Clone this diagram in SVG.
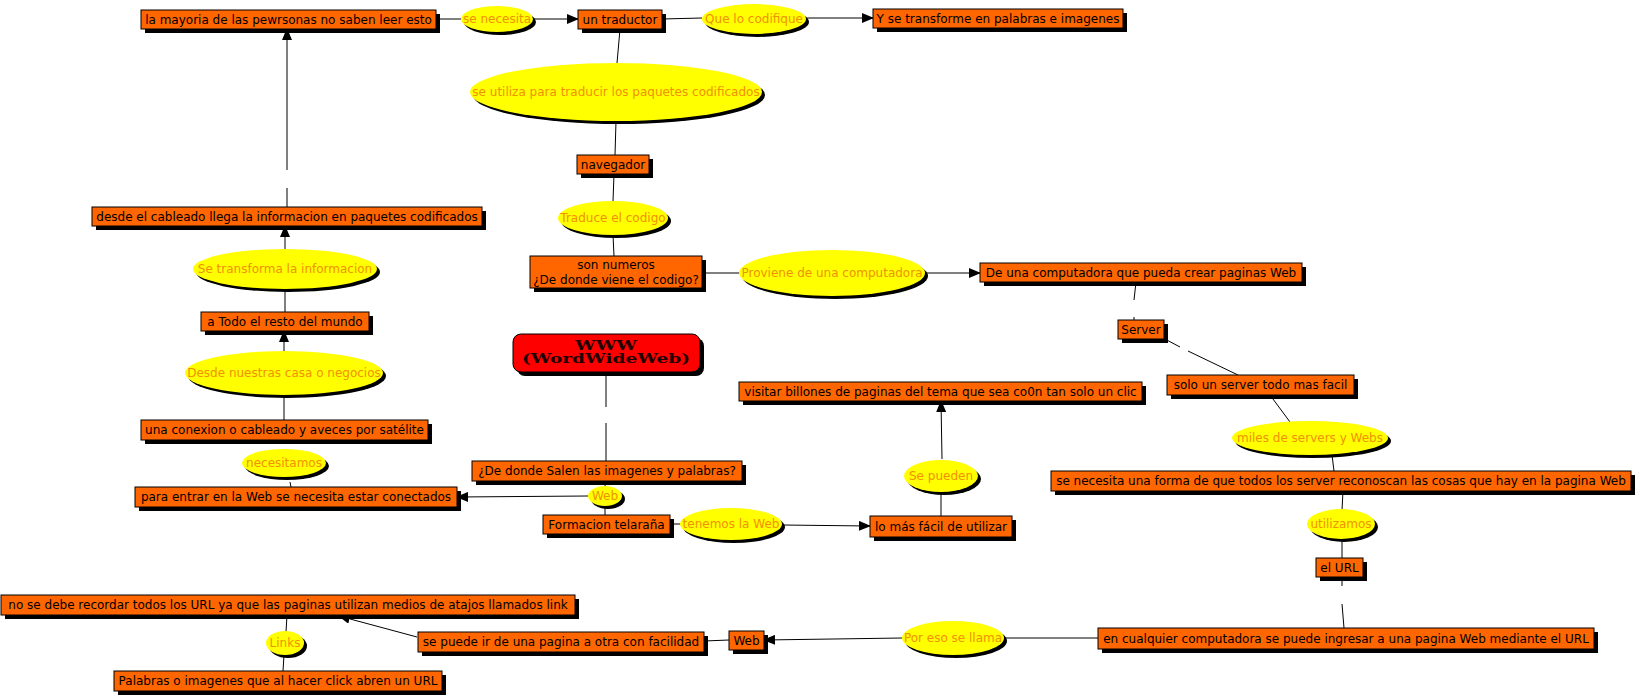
<svg xmlns="http://www.w3.org/2000/svg" width="1638" height="697" viewBox="0 0 1638 697">
<defs>
<marker id="ah" markerWidth="12" markerHeight="10" refX="11" refY="5" orient="auto" markerUnits="userSpaceOnUse">
<path d="M0,0 L12,5 L0,10 Z" fill="#000"/>
</marker>
<style>
.sh{fill:#000}
.bx{fill:#FF6600;stroke:#000;stroke-width:1}
.el{fill:#FFFF00}
.bt{font-family:"DejaVu Sans","Verdana",sans-serif;font-size:12px;fill:#000;text-anchor:middle}
.et{font-family:"DejaVu Sans","Verdana",sans-serif;font-size:12px;fill:#F29100;text-anchor:middle}
.ln{stroke:#000;stroke-width:1;fill:none}
.ar{stroke:#000;stroke-width:1;fill:none;marker-end:url(#ah)}
</style>
</defs>
<rect width="1638" height="697" fill="#fff"/>

<g id="connectors">
<line class="ln" x1="436" y1="19" x2="461" y2="19"/>
<line class="ar" x1="533" y1="19" x2="578" y2="19"/>
<line class="ln" x1="662" y1="19" x2="702" y2="18"/>
<line class="ar" x1="806" y1="18" x2="873" y2="18"/>
<line class="ln" x1="620" y1="29" x2="617" y2="63"/>
<line class="ln" x1="616" y1="121" x2="615" y2="155"/>
<line class="ln" x1="614" y1="174" x2="613" y2="201"/>
<line class="ln" x1="613" y1="235" x2="614" y2="256"/>
<line class="ln" x1="702" y1="273" x2="740" y2="273"/>
<line class="ar" x1="925" y1="273" x2="980" y2="273"/>
<line class="ln" x1="1136" y1="282" x2="1134" y2="300"/>
<line class="ln" x1="1134" y1="317" x2="1134" y2="320"/>
<line class="ln" x1="1163" y1="338" x2="1180" y2="347"/>
<line class="ln" x1="1188" y1="351" x2="1238" y2="375"/>
<line class="ln" x1="1270" y1="395" x2="1290" y2="422"/>
<line class="ln" x1="1332" y1="455" x2="1334" y2="471"/>
<line class="ln" x1="1343" y1="491" x2="1342" y2="510"/>
<line class="ln" x1="1342" y1="539" x2="1342" y2="558"/>
<line class="ln" x1="1342" y1="577" x2="1342" y2="586"/>
<line class="ln" x1="1342" y1="604" x2="1344" y2="628"/>
<line class="ln" x1="1098" y1="638" x2="1004" y2="638"/>
<line class="ar" x1="902" y1="638" x2="764" y2="640"/>
<line class="ln" x1="729" y1="640" x2="704" y2="641"/>
<line class="ar" x1="417" y1="637" x2="339" y2="616"/>
<line class="ln" x1="287" y1="615" x2="286" y2="632"/>
<line class="ln" x1="284" y1="655" x2="283" y2="671"/>
<line class="ln" x1="287" y1="207" x2="287" y2="188"/>
<line class="ar" x1="287" y1="170" x2="287" y2="29"/>
<line class="ar" x1="285" y1="249" x2="285" y2="226"/>
<line class="ln" x1="285" y1="312" x2="285" y2="290"/>
<line class="ar" x1="284" y1="351" x2="284" y2="331"/>
<line class="ln" x1="284" y1="396" x2="284" y2="420"/>
<line class="ln" x1="290" y1="482" x2="291" y2="487"/>
<line class="ln" x1="606" y1="372" x2="606" y2="407"/>
<line class="ln" x1="606" y1="423" x2="606" y2="461"/>
<line class="ln" x1="606" y1="481" x2="605" y2="486"/>
<line class="ar" x1="588" y1="496" x2="457" y2="497"/>
<line class="ln" x1="605" y1="506" x2="605" y2="515"/>
<line class="ln" x1="670" y1="524" x2="680" y2="524"/>
<line class="ar" x1="782" y1="525" x2="870" y2="526"/>
<line class="ln" x1="941" y1="516" x2="941" y2="493"/>
<line class="ar" x1="942" y1="459" x2="941" y2="401"/>
</g>

<g id="n_mayoria"><rect class="sh" x="145" y="14" width="295" height="19"/><rect class="bx" x="141" y="10" width="295" height="19"/><text class="bt" x="288.5" y="24">la mayoria de las pewrsonas no saben leer esto</text></g>
<g id="n_senecesita"><ellipse class="sh" cx="500" cy="22" rx="36" ry="13"/><ellipse class="el" cx="497" cy="19" rx="36" ry="13"/><text class="et" x="497" y="23">se necesita</text></g>
<g id="n_traductor"><rect class="sh" x="582" y="14" width="84" height="19"/><rect class="bx" x="578" y="10" width="84" height="19"/><text class="bt" x="620" y="24">un traductor</text></g>
<g id="n_codifique"><ellipse class="sh" cx="757" cy="22" rx="52" ry="15"/><ellipse class="el" cx="754" cy="19" rx="52" ry="15"/><text class="et" x="754" y="23">Que lo codifique</text></g>
<g id="n_transforme"><rect class="sh" x="877" y="13" width="250" height="19"/><rect class="bx" x="873" y="9" width="250" height="19"/><text class="bt" x="998" y="23">Y se transforme en palabras e imagenes</text></g>
<g id="n_utiliza"><ellipse class="sh" cx="619" cy="95" rx="146" ry="29"/><ellipse class="el" cx="616" cy="92" rx="146" ry="29"/><text class="et" x="616" y="96">se utiliza para traducir los paquetes codificados</text></g>
<g id="n_navegador"><rect class="sh" x="581" y="159" width="72" height="19"/><rect class="bx" x="577" y="155" width="72" height="19"/><text class="bt" x="613" y="169">navegador</text></g>
<g id="n_traduce"><ellipse class="sh" cx="616" cy="221" rx="55" ry="17"/><ellipse class="el" cx="613" cy="218" rx="55" ry="17"/><text class="et" x="613" y="222">Traduce el codigo</text></g>
<g id="n_numeros"><rect class="sh" x="534" y="260" width="172" height="32"/><rect class="bx" x="530" y="256" width="172" height="32"/><text class="bt" x="616" y="269">son numeros</text><text class="bt" x="616" y="284">¿De donde viene el codigo?</text></g>
<g id="n_proviene"><ellipse class="sh" cx="835" cy="276" rx="93" ry="23"/><ellipse class="el" cx="832" cy="273" rx="93" ry="23"/><text class="et" x="832" y="277">Proviene de una computadora</text></g>
<g id="n_deuna"><rect class="sh" x="984" y="267" width="322" height="19"/><rect class="bx" x="980" y="263" width="322" height="19"/><text class="bt" x="1141" y="277">De una computadora que pueda crear paginas Web</text></g>
<g id="n_server"><rect class="sh" x="1122" y="324" width="46" height="19"/><rect class="bx" x="1118" y="320" width="46" height="19"/><text class="bt" x="1141" y="334">Server</text></g>
<g id="n_solo"><rect class="sh" x="1171" y="379" width="187" height="20"/><rect class="bx" x="1167" y="375" width="187" height="20"/><text class="bt" x="1260.5" y="389">solo un server todo mas facil</text></g>
<g id="n_miles"><ellipse class="sh" cx="1313" cy="441" rx="78" ry="17"/><ellipse class="el" cx="1310" cy="438" rx="78" ry="17"/><text class="et" x="1310" y="442">miles de servers y Webs</text></g>
<g id="n_forma"><rect class="sh" x="1055" y="475" width="580" height="20"/><rect class="bx" x="1051" y="471" width="580" height="20"/><text class="bt" x="1341" y="485">se necesita una forma de que todos los server reconoscan las cosas que hay en la pagina Web</text></g>
<g id="n_utilizamos"><ellipse class="sh" cx="1344" cy="527" rx="34" ry="15"/><ellipse class="el" cx="1341" cy="524" rx="34" ry="15"/><text class="et" x="1341" y="528">utilizamos</text></g>
<g id="n_url"><rect class="sh" x="1320" y="562" width="47" height="19"/><rect class="bx" x="1316" y="558" width="47" height="19"/><text class="bt" x="1339.5" y="572">el URL</text></g>
<g id="n_cualquier"><rect class="sh" x="1102" y="632" width="496" height="21"/><rect class="bx" x="1098" y="628" width="496" height="21"/><text class="bt" x="1346" y="643">en cualquier computadora se puede ingresar a una pagina Web mediante el URL</text></g>
<g id="n_poreso"><ellipse class="sh" cx="956" cy="641" rx="51" ry="17"/><ellipse class="el" cx="953" cy="638" rx="51" ry="17"/><text class="et" x="953" y="642">Por eso se llama</text></g>
<g id="n_web2"><rect class="sh" x="733" y="635" width="35" height="19"/><rect class="bx" x="729" y="631" width="35" height="19"/><text class="bt" x="746.5" y="645">Web</text></g>
<g id="n_sepuede"><rect class="sh" x="422" y="636" width="286" height="20"/><rect class="bx" x="418" y="632" width="286" height="20"/><text class="bt" x="561" y="646">se puede ir de una pagina a otra con facilidad</text></g>
<g id="n_nosedebe"><rect class="sh" x="5" y="599" width="574" height="20"/><rect class="bx" x="1" y="595" width="574" height="20"/><text class="bt" x="288" y="609">no se debe recordar todos los URL ya que las paginas utilizan medios de atajos llamados link</text></g>
<g id="n_links"><ellipse class="sh" cx="288" cy="646" rx="19" ry="12"/><ellipse class="el" cx="285" cy="643" rx="19" ry="12"/><text class="et" x="285" y="647">Links</text></g>
<g id="n_palabras"><rect class="sh" x="118" y="675" width="328" height="20"/><rect class="bx" x="114" y="671" width="328" height="20"/><text class="bt" x="278" y="685">Palabras o imagenes que al hacer click abren un URL</text></g>
<g id="n_desde"><rect class="sh" x="96" y="211" width="390" height="19"/><rect class="bx" x="92" y="207" width="390" height="19"/><text class="bt" x="287" y="221">desde el cableado llega la informacion en paquetes codificados</text></g>
<g id="n_setransforma"><ellipse class="sh" cx="288" cy="272" rx="92" ry="20"/><ellipse class="el" cx="285" cy="269" rx="92" ry="20"/><text class="et" x="285" y="273">Se transforma la informacion</text></g>
<g id="n_todo"><rect class="sh" x="205" y="316" width="168" height="19"/><rect class="bx" x="201" y="312" width="168" height="19"/><text class="bt" x="285" y="326">a Todo el resto del mundo</text></g>
<g id="n_desdenuestras"><ellipse class="sh" cx="287" cy="376" rx="99" ry="22"/><ellipse class="el" cx="284" cy="373" rx="99" ry="22"/><text class="et" x="284" y="377">Desde nuestras casa o negocios</text></g>
<g id="n_conexion"><rect class="sh" x="145" y="424" width="287" height="20"/><rect class="bx" x="141" y="420" width="287" height="20"/><text class="bt" x="284.5" y="434">una conexion o cableado y aveces por satélite</text></g>
<g id="n_necesitamos"><ellipse class="sh" cx="287" cy="466" rx="42" ry="14"/><ellipse class="el" cx="284" cy="463" rx="42" ry="14"/><text class="et" x="284" y="467">necesitamos</text></g>
<g id="n_paraentrar"><rect class="sh" x="139" y="491" width="322" height="20"/><rect class="bx" x="135" y="487" width="322" height="20"/><text class="bt" x="296" y="501">para entrar en la Web se necesita estar conectados</text></g>
<g id="n_www"><rect class="sh" x="517" y="338" width="187" height="38" rx="8"/><rect x="513" y="334" width="187" height="38" rx="8" fill="#FF0000" stroke="#000" stroke-width="1"/><text x="606" y="350" font-family="DejaVu Serif,serif" font-weight="bold" font-size="12" fill="#200000" text-anchor="middle" textLength="62" lengthAdjust="spacingAndGlyphs">WWW</text><text x="606" y="363" font-family="DejaVu Serif,serif" font-weight="bold" font-size="12" fill="#200000" text-anchor="middle" textLength="168" lengthAdjust="spacingAndGlyphs">(WordWideWeb)</text></g>
<g id="n_salen"><rect class="sh" x="476" y="465" width="270" height="20"/><rect class="bx" x="472" y="461" width="270" height="20"/><text class="bt" x="607" y="475">¿De donde Salen las imagenes y palabras?</text></g>
<g id="n_web1"><ellipse class="sh" cx="608" cy="499" rx="17" ry="10"/><ellipse class="el" cx="605" cy="496" rx="17" ry="10"/><text class="et" x="605" y="500">Web</text></g>
<g id="n_formacion"><rect class="sh" x="547" y="519" width="127" height="19"/><rect class="bx" x="543" y="515" width="127" height="19"/><text class="bt" x="606.5" y="529">Formacion telaraña</text></g>
<g id="n_tenemos"><ellipse class="sh" cx="734" cy="527" rx="51" ry="16"/><ellipse class="el" cx="731" cy="524" rx="51" ry="16"/><text class="et" x="731" y="528">tenemos la Web</text></g>
<g id="n_facil"><rect class="sh" x="874" y="520" width="142" height="21"/><rect class="bx" x="870" y="516" width="142" height="21"/><text class="bt" x="941" y="531">lo más fácil de utilizar</text></g>
<g id="n_sepueden"><ellipse class="sh" cx="944" cy="479" rx="37" ry="16"/><ellipse class="el" cx="941" cy="476" rx="37" ry="16"/><text class="et" x="941" y="480">Se pueden</text></g>
<g id="n_visitar"><rect class="sh" x="743" y="386" width="403" height="19"/><rect class="bx" x="739" y="382" width="403" height="19"/><text class="bt" x="940.5" y="396">visitar billones de paginas del tema que sea co0n tan solo un clic</text></g>
</svg>
